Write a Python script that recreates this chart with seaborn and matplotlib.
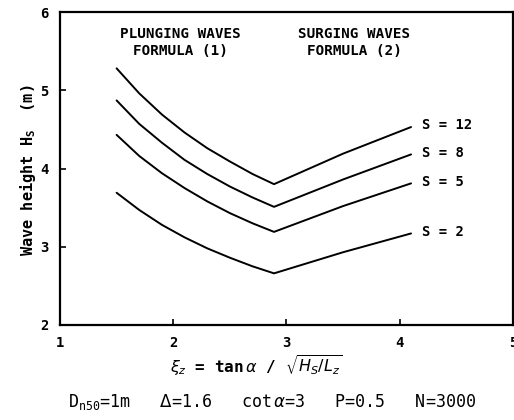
import matplotlib
matplotlib.use("Agg")
import matplotlib.pyplot as plt
import seaborn as sns
import pandas as pd

# Surf similarity parameter xi_z (transition between breaker types near 2.89)
xi = [1.5, 1.7, 1.9, 2.1, 2.3, 2.5, 2.7, 2.89, 3.5, 4.1]

# Wave height Hs (m) for each damage level S
hs_s2 = [3.69, 3.47, 3.28, 3.12, 2.98, 2.86, 2.75, 2.66, 2.93, 3.17]
hs_s5 = [4.43, 4.16, 3.94, 3.75, 3.58, 3.43, 3.30, 3.19, 3.52, 3.81]
hs_s8 = [4.87, 4.57, 4.33, 4.11, 3.93, 3.77, 3.63, 3.51, 3.86, 4.18]
hs_s12 = [5.28, 4.96, 4.69, 4.46, 4.26, 4.09, 3.93, 3.80, 4.19, 4.53]

damage = ["S = 2", "S = 5", "S = 8", "S = 12"]
series = [hs_s2, hs_s5, hs_s8, hs_s12]

x_ticks = [1, 2, 3, 4, 5]
y_ticks = [2, 3, 4, 5, 6]

rows = []
for name, vals in zip(damage, series):
    for x, h in zip(xi, vals):
        rows.append({"xi": x, "Hs": h, "S": name})
df = pd.DataFrame(rows)

sns.set_style("ticks")
plt.rcParams["font.family"] = ["DejaVu Sans Mono", "DejaVu Sans"]
plt.rcParams["mathtext.fontset"] = "dejavusans"
for key in ["text.color", "axes.labelcolor", "xtick.color", "ytick.color",
            "axes.edgecolor"]:
    plt.rcParams[key] = "black"

fig = plt.figure(figsize=(5.14, 4.20), dpi=100)
ax = fig.add_axes([0.1167, 0.2262, 0.8813, 0.7452])

sns.lineplot(data=df, x="xi", y="Hs", hue="S", palette=["black"] * 4,
             legend=False, linewidth=1.4, ax=ax, sort=False)

# Curve labels at the right-hand end of each line
for name, vals in zip(damage, series):
    ax.text(4.2, vals[-1] + 0.02, name, ha="left", va="center",
            fontsize=10, fontweight="bold", color="black")

ax.text(2.06, 5.61, "PLUNGING WAVES\nFORMULA (1)", ha="center", va="center",
        fontsize=10.3, fontweight="bold", linespacing=1.25)
ax.text(3.6, 5.61, "SURGING WAVES\nFORMULA (2)", ha="center", va="center",
        fontsize=10.3, fontweight="bold", linespacing=1.25)

ax.set_xlim(1, 5)
ax.set_ylim(2, 6)
ax.set_xticks(x_ticks)
ax.set_yticks(y_ticks)
ax.set_xticklabels([str(t) for t in x_ticks], fontsize=10, fontweight="bold")
ax.set_yticklabels([str(t) for t in y_ticks], fontsize=10, fontweight="bold")
ax.tick_params(direction="in", length=4, width=1.2, pad=8)
ax.set_xlabel("")
ax.set_ylabel("")
for sp in ax.spines.values():
    sp.set_visible(True)
    sp.set_linewidth(1.6)
    sp.set_color("black")

fig.text(0.055, 0.595, r"Wave height H$_\mathregular{S}$  (m)", rotation=90,
         ha="center", va="center", fontsize=11, fontweight="bold")
fig.text(0.498, 0.128, r"$\xi_z$ = tan$\,\alpha$ / $\sqrt{H_S/L_z}$",
         ha="center", va="center", fontsize=11.5, fontweight="bold")
fig.text(0.53, 0.042,
         r"D$_{\mathregular{n50}}$=1m   $\Delta$=1.6   cot$\,\alpha$=3   P=0.5   N=3000",
         ha="center", va="center", fontsize=12)

fig.savefig("out.png", dpi=100)
